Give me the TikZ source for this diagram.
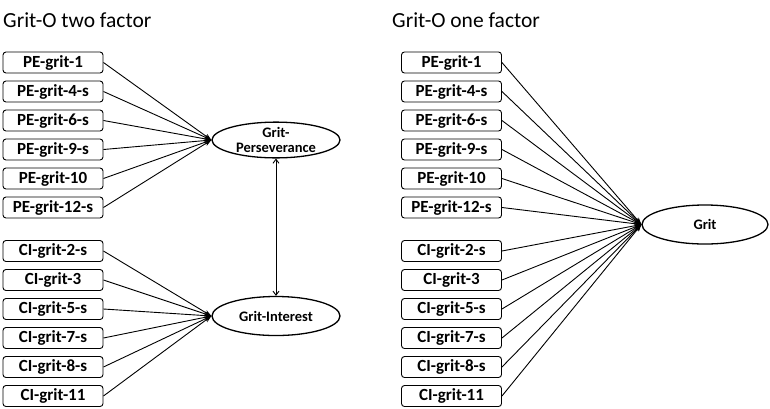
\documentclass[tikz,border=0pt]{standalone}
\usepackage{fontspec}
\setmainfont{Carlito}
\usetikzlibrary{%
    arrows.meta,
    positioning,
    shapes.geometric
}

\begin{document}
\begin{tikzpicture}[x=1pt, y=-1pt,
    item/.style={draw, rounded corners=3pt, minimum width=100pt,
      minimum height=21pt, inner sep=0pt, line width=0.9pt,
      font=\bfseries\fontsize{17}{17}\selectfont},
    factor/.style={draw, ellipse, inner sep=0pt, line width=1.3pt,
      align=center, font=\bfseries\fontsize{14.5}{15}\selectfont},
    heading/.style={anchor=base west, inner sep=0pt,
      font=\fontsize{21.5}{21.5}\selectfont},
    load/.style={-{Stealth[length=7pt,width=5pt]}, line width=0.9pt},
    corr/.style={{Straight Barb[length=4pt,width=6pt]}-{Straight Barb[length=4pt,width=6pt]},
      line width=0.9pt}
  ]
  \useasboundingbox (0,0) rectangle (770,408);

  \node[heading] (t1) at (3,27) {Grit-O two factor};
  \node[heading] (t2) at (392,27) {Grit-O one factor};

  % factors
  \node[factor, minimum width=128pt, minimum height=34pt] (pers) at (276,140)
    {Grit-\\Perseverance};
  \node[factor, minimum width=128pt, minimum height=39pt] (intr) at (276,316)
    {Grit-Interest};
  \node[factor, minimum width=126pt, minimum height=39pt] (grit) at (705,224.5)
    {Grit};

  \draw[corr] (pers.south) -- (intr.north);

  % indicators
  \foreach \lab [count=\i] in {PE-grit-1, PE-grit-4-s, PE-grit-6-s,
      PE-grit-9-s, PE-grit-10, PE-grit-12-s} {
    \node[item] (lp\i) at (53,{62.5+29*(\i-1)}) {\lab};
    \node[item] (rp\i) at (451.5,{62.5+29*(\i-1)}) {\lab};
    \draw[load] (lp\i.east) -- (pers.west);
    \draw[load] (rp\i.east) -- (grit.west);
  }
  \foreach \lab [count=\i] in {CI-grit-2-s, CI-grit-3, CI-grit-5-s,
      CI-grit-7-s, CI-grit-8-s, CI-grit-11} {
    \node[item] (li\i) at (53,{251+29*(\i-1)}) {\lab};
    \node[item] (ri\i) at (451.5,{251+29*(\i-1)}) {\lab};
    \draw[load] (li\i.east) -- (intr.west);
    \draw[load] (ri\i.east) -- (grit.west);
  }
\end{tikzpicture}
\end{document}
